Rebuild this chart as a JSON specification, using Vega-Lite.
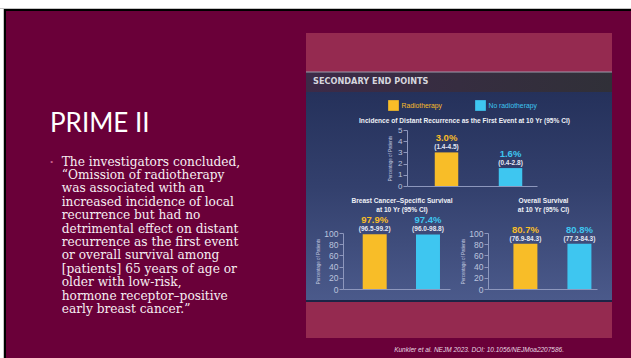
{
  "$schema": "https://vega.github.io/schema/vega-lite/v6.json",
  "width": 625,
  "height": 347,
  "autosize": "none",
  "padding": {"left": 6, "top": 11, "right": 0, "bottom": 0},
  "background": "#ffffff",
  "config": {
    "view": {"fill": "#6a0039", "stroke": null},
    "font": "Liberation Sans",
    "axis": {"zindex": 1}
  },
  "datasets": {
    "results": [
      {"panel": "distant", "arm": "Radiotherapy", "pct": 3.0, "ci": "(1.4-4.5)"},
      {"panel": "distant", "arm": "No radiotherapy", "pct": 1.6, "ci": "(0.4-2.8)"},
      {"panel": "bcss", "arm": "Radiotherapy", "pct": 97.9, "ci": "(96.5-99.2)"},
      {"panel": "bcss", "arm": "No radiotherapy", "pct": 97.4, "ci": "(96.0-98.8)"},
      {"panel": "os", "arm": "Radiotherapy", "pct": 80.7, "ci": "(76.9-84.3)"},
      {"panel": "os", "arm": "No radiotherapy", "pct": 80.8, "ci": "(77.2-84.3)"}
    ],
    "arms": [
      {"arm": "Radiotherapy"},
      {"arm": "No radiotherapy"}
    ]
  },
  "layer": [
    {
      "data": {"values": [{}]},
      "layer": [
        {
          "mark": {"type": "rect", "fill": "#c4c4c4"},
          "encoding": {
            "x": {"datum": -6, "type": "quantitative", "scale": {"domain": [0, 625], "range": [0, 625], "nice": false}, "axis": null},
            "x2": {"datum": 625},
            "y": {"datum": -3, "type": "quantitative", "scale": {"domain": [0, 347], "range": [0, 347], "nice": false}, "axis": null},
            "y2": {"datum": -2}
          }
        },
        {
          "mark": {"type": "rect", "fill": "#c4c4c4"},
          "encoding": {
            "x": {"datum": -3, "type": "quantitative"},
            "x2": {"datum": -2},
            "y": {"datum": -3, "type": "quantitative"},
            "y2": {"datum": 347}
          }
        },
        {
          "mark": {"type": "rect", "fill": "#000000"},
          "encoding": {
            "x": {"datum": -2, "type": "quantitative"},
            "x2": {"datum": 625},
            "y": {"datum": -2, "type": "quantitative"},
            "y2": {"datum": 0}
          }
        },
        {
          "mark": {"type": "rect", "fill": "#000000"},
          "encoding": {
            "x": {"datum": -2, "type": "quantitative"},
            "x2": {"datum": 0},
            "y": {"datum": -2, "type": "quantitative"},
            "y2": {"datum": 347}
          }
        },
        {
          "mark": {"type": "rect", "fill": "#952a50"},
          "encoding": {
            "x": {"datum": 300, "type": "quantitative"},
            "x2": {"datum": 606},
            "y": {"datum": 22, "type": "quantitative"},
            "y2": {"datum": 327}
          }
        },
        {
          "mark": {
            "type": "rect",
            "fill": {
              "gradient": "linear", "x1": 0, "y1": 0, "x2": 0, "y2": 1,
              "stops": [
                {"offset": 0, "color": "#222e57"},
                {"offset": 0.5, "color": "#33406d"},
                {"offset": 1, "color": "#4b5a8b"}
              ]
            }
          },
          "encoding": {
            "x": {"datum": 300, "type": "quantitative"},
            "x2": {"datum": 606},
            "y": {"datum": 61, "type": "quantitative"},
            "y2": {"datum": 290}
          }
        },
        {
          "mark": {
            "type": "rect",
            "fill": {
              "gradient": "linear", "x1": 0, "y1": 0, "x2": 1, "y2": 0,
              "stops": [
                {"offset": 0, "color": "#3c2a48"},
                {"offset": 1, "color": "#303038"}
              ]
            }
          },
          "encoding": {
            "x": {"datum": 300, "type": "quantitative"},
            "x2": {"datum": 606},
            "y": {"datum": 61, "type": "quantitative"},
            "y2": {"datum": 81}
          }
        },
        {
          "mark": {"type": "rect", "fill": "#9c9cac"},
          "encoding": {
            "x": {"datum": 300, "type": "quantitative"},
            "x2": {"datum": 606},
            "y": {"datum": 60.5, "type": "quantitative"},
            "y2": {"datum": 61.5}
          }
        },
        {
          "mark": {"type": "rect", "fill": "#1b2446"},
          "encoding": {
            "x": {"datum": 300, "type": "quantitative"},
            "x2": {"datum": 606},
            "y": {"datum": 289, "type": "quantitative"},
            "y2": {"datum": 291}
          }
        },
        {
          "mark": {"type": "text", "text": "SECONDARY END POINTS", "font": "DejaVu Sans", "fontWeight": "bold", "fontSize": 8.2, "color": "#d6d6de", "align": "left", "baseline": "middle"},
          "encoding": {
            "x": {"datum": 307, "type": "quantitative"},
            "y": {"datum": 70.5, "type": "quantitative"}
          }
        },
        {
          "mark": {"type": "text", "text": "Incidence of Distant Recurrence as the First Event at 10 Yr (95% CI)", "fontWeight": "bold", "fontSize": 6.6, "color": "#eef0f6", "align": "center", "baseline": "middle"},
          "encoding": {
            "x": {"datum": 458.5, "type": "quantitative"},
            "y": {"datum": 110, "type": "quantitative"}
          }
        },
        {
          "mark": {"type": "text", "text": ["Breast Cancer–Specific Survival", "at 10 Yr (95% CI)"], "lineHeight": 9.3, "fontWeight": "bold", "fontSize": 6.6, "color": "#eef0f6", "align": "center", "baseline": "alphabetic"},
          "encoding": {
            "x": {"datum": 396, "type": "quantitative"},
            "y": {"datum": 192, "type": "quantitative"}
          }
        },
        {
          "mark": {"type": "text", "text": ["Overall Survival", "at 10 Yr (95% CI)"], "lineHeight": 9.3, "fontWeight": "bold", "fontSize": 6.6, "color": "#eef0f6", "align": "center", "baseline": "alphabetic"},
          "encoding": {
            "x": {"datum": 537.5, "type": "quantitative"},
            "y": {"datum": 192, "type": "quantitative"}
          }
        },
        {
          "mark": {"type": "text", "text": "PRIME II", "font": "Lato", "fontSize": 26, "color": "#ffffff", "align": "left", "baseline": "alphabetic"},
          "encoding": {
            "x": {"datum": 44, "type": "quantitative"},
            "y": {"datum": 120.7, "type": "quantitative"}
          }
        },
        {
          "mark": {"type": "text", "text": "•", "fontSize": 8, "color": "#c8608a", "align": "center", "baseline": "middle"},
          "encoding": {
            "x": {"datum": 45.7, "type": "quantitative"},
            "y": {"datum": 151, "type": "quantitative"}
          }
        },
        {
          "mark": {
            "type": "text",
            "text": [
              "The investigators concluded,",
              "“Omission of radiotherapy",
              "was associated with an",
              "increased incidence of local",
              "recurrence but had no",
              "detrimental effect on distant",
              "recurrence as the first event",
              "or overall survival among",
              "[patients] 65 years of age or",
              "older with low-risk,",
              "hormone receptor–positive",
              "early breast cancer.”"
            ],
            "font": "DejaVu Serif",
            "fontSize": 12.2,
            "lineHeight": 13.4,
            "color": "#f6eef2",
            "align": "left",
            "baseline": "alphabetic"
          },
          "encoding": {
            "x": {"datum": 55.7, "type": "quantitative"},
            "y": {"datum": 154.7, "type": "quantitative"}
          }
        },
        {
          "mark": {"type": "text", "text": "Kunkler et al. NEJM 2023. DOI: 10.1056/NEJMoa2207586.", "fontStyle": "italic", "fontSize": 6.5, "color": "#e8d8e0", "align": "right", "baseline": "alphabetic"},
          "encoding": {
            "x": {"datum": 558, "type": "quantitative"},
            "y": {"datum": 340.5, "type": "quantitative"}
          }
        }
      ]
    },
    {
      "data": {"name": "arms"},
      "encoding": {
        "x": {"field": "arm", "type": "nominal", "scale": {"type": "point", "domain": ["Radiotherapy", "No radiotherapy"], "range": [387.5, 474.5], "padding": 0}, "axis": null},
        "y": {"datum": 94.5, "type": "quantitative", "scale": {"domain": [0, 347], "range": [0, 347], "nice": false}, "axis": null},
        "color": {"field": "arm", "type": "nominal", "scale": {"domain": ["Radiotherapy", "No radiotherapy"], "range": ["#f8bd28", "#3ec6f0"]}, "legend": null}
      },
      "layer": [
        {"mark": {"type": "square", "size": 115, "filled": true, "opacity": 1}},
        {"mark": {"type": "text", "align": "left", "baseline": "middle", "dx": 8, "fontSize": 6.8}, "encoding": {"text": {"field": "arm"}}}
      ]
    },
    {
      "data": {"name": "results"},
      "transform": [
        {"filter": "datum.panel === 'distant'"},
        {"calculate": "format(datum.pct, '.1f') + '%'", "as": "pct_label"}
      ],
      "encoding": {
        "x": {
          "field": "arm", "type": "nominal", "sort": null,
          "scale": {"domain": ["Radiotherapy", "No radiotherapy"], "range": [401, 531], "paddingInner": 0.633, "paddingOuter": 0.332, "align": 0.653},
          "axis": {"orient": "bottom", "offset": -172, "labels": false, "ticks": false, "title": null, "domainColor": "#8d97bd", "grid": false, "zindex": 1}
        },
        "y": {
          "field": "pct", "type": "quantitative",
          "scale": {"domain": [0, 5], "range": [175, 119], "nice": false},
          "axis": {"orient": "left", "offset": -401, "values": [0, 1, 2, 3, 4, 5], "title": "Percentage of Patients", "titleFontSize": 4.5, "titleFontWeight": "normal", "titleColor": "#c4cae0", "titlePadding": 5, "labelFontSize": 8, "labelColor": "#bcc4de", "labelPadding": 1, "tickSize": 4, "tickColor": "#8d97bd", "domainColor": "#8d97bd", "grid": false, "zindex": 1}
        },
        "color": {"field": "arm", "type": "nominal", "legend": null}
      },
      "layer": [
        {"mark": {"type": "bar"}},
        {"mark": {"type": "text", "dy": -14, "fontSize": 9.5, "fontWeight": "bold", "baseline": "middle"}, "encoding": {"text": {"field": "pct_label"}}},
        {"mark": {"type": "text", "dy": -5, "fontSize": 6.5, "fontWeight": "bold", "baseline": "middle"}, "encoding": {"text": {"field": "ci"}, "color": {"value": "#e4e8f4"}}}
      ]
    },
    {
      "data": {"name": "results"},
      "transform": [
        {"filter": "datum.panel === 'bcss'"},
        {"calculate": "format(datum.pct, '.1f') + '%'", "as": "pct_label"}
      ],
      "encoding": {
        "x": {
          "field": "arm", "type": "nominal", "sort": null,
          "scale": {"domain": ["Radiotherapy", "No radiotherapy"], "range": [337, 444], "paddingInner": 0.55, "paddingOuter": 0.279, "align": 0.663},
          "axis": {"orient": "bottom", "offset": -69, "labels": false, "ticks": false, "title": null, "domainColor": "#8d97bd", "grid": false, "zindex": 1}
        },
        "y": {
          "field": "pct", "type": "quantitative",
          "scale": {"domain": [0, 100], "range": [278, 222], "nice": false},
          "axis": {"orient": "left", "offset": -337, "values": [0, 20, 40, 60, 80, 100], "title": "Percentage of Patients", "titleFontSize": 4.5, "titleFontWeight": "normal", "titleColor": "#c4cae0", "titlePadding": 3, "labelFontSize": 8.5, "labelColor": "#bcc4de", "labelPadding": 1, "tickSize": 4, "tickColor": "#8d97bd", "domainColor": "#8d97bd", "grid": false, "zindex": 1}
        },
        "color": {"field": "arm", "type": "nominal", "legend": null}
      },
      "layer": [
        {"mark": {"type": "bar"}},
        {"mark": {"type": "text", "dy": -14, "fontSize": 9.5, "fontWeight": "bold", "baseline": "middle"}, "encoding": {"text": {"field": "pct_label"}}},
        {"mark": {"type": "text", "dy": -5, "fontSize": 6.5, "fontWeight": "bold", "baseline": "middle"}, "encoding": {"text": {"field": "ci"}, "color": {"value": "#e4e8f4"}}}
      ]
    },
    {
      "data": {"name": "results"},
      "transform": [
        {"filter": "datum.panel === 'os'"},
        {"calculate": "format(datum.pct, '.1f') + '%'", "as": "pct_label"}
      ],
      "encoding": {
        "x": {
          "field": "arm", "type": "nominal", "sort": null,
          "scale": {"domain": ["Radiotherapy", "No radiotherapy"], "range": [482, 591], "paddingInner": 0.556, "paddingOuter": 0.287, "align": 0.82},
          "axis": {"orient": "bottom", "offset": -69, "labels": false, "ticks": false, "title": null, "domainColor": "#8d97bd", "grid": false, "zindex": 1}
        },
        "y": {
          "field": "pct", "type": "quantitative",
          "scale": {"domain": [0, 100], "range": [278, 222], "nice": false},
          "axis": {"orient": "left", "offset": -482, "values": [0, 20, 40, 60, 80, 100], "title": "Percentage of Patients", "titleFontSize": 4.5, "titleFontWeight": "normal", "titleColor": "#c4cae0", "titlePadding": 3, "labelFontSize": 8.5, "labelColor": "#bcc4de", "labelPadding": 1, "tickSize": 4, "tickColor": "#8d97bd", "domainColor": "#8d97bd", "grid": false, "zindex": 1}
        },
        "color": {"field": "arm", "type": "nominal", "legend": null}
      },
      "layer": [
        {"mark": {"type": "bar"}},
        {"mark": {"type": "text", "dy": -14, "fontSize": 9.5, "fontWeight": "bold", "baseline": "middle"}, "encoding": {"text": {"field": "pct_label"}}},
        {"mark": {"type": "text", "dy": -5, "fontSize": 6.5, "fontWeight": "bold", "baseline": "middle"}, "encoding": {"text": {"field": "ci"}, "color": {"value": "#e4e8f4"}}}
      ]
    }
  ],
  "resolve": {
    "scale": {"x": "independent", "y": "independent"},
    "axis": {"x": "independent", "y": "independent"}
  }
}
